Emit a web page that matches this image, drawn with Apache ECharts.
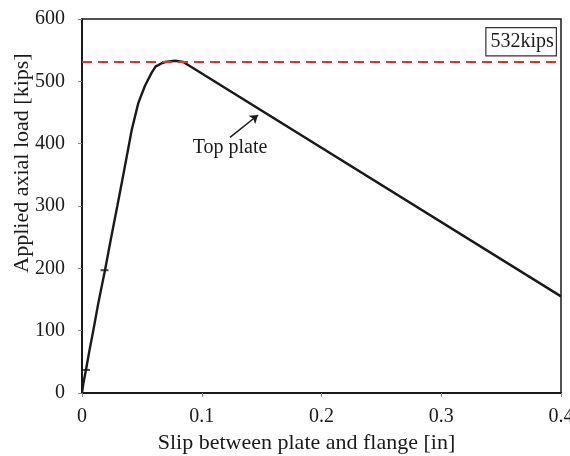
<!DOCTYPE html>
<html>
<head>
<meta charset="utf-8">
<script src="https://cdn.jsdelivr.net/npm/echarts@6/dist/echarts.min.js"></script>
<style>
  html, body { margin: 0; padding: 0; background: #fff; }
  #chart { width: 570px; height: 456px; }
</style>
</head>
<body>
<div id="chart"></div>
<script>
// slip [in] vs applied axial load [kips]
const slip = [0, 0.0012, 0.0033, 0.006, 0.0094, 0.0136, 0.0192, 0.024, 0.0295,
  0.0345, 0.0387, 0.0415, 0.047, 0.0526, 0.0582, 0.0615, 0.0637, 0.0665, 0.0693, 0.0777, 0.0846, 0.4];
const load = [0, 16, 37, 66, 100, 144, 197, 246, 300,
  350, 393, 422, 465, 493, 514, 524, 526, 529, 531, 533, 531, 155];

// the two small cross marks on the rising branch
const markSlip = [0.0033, 0.0188];
const markLoad = [37, 197];

const peakLoad = 532;
const peakText = '532kips';
const curveName = 'Top plate';
const arrowFrom = [0.1236, 410];
const arrowTo = [0.147, 446];

const xTicks = [0, 0.1, 0.2, 0.3, 0.4];
const yTicks = [0, 100, 200, 300, 400, 500, 600];

const font = '"Liberation Serif", "Times New Roman", serif';
const ink = '#1a1a1a';

const chart = echarts.init(document.getElementById('chart'));

chart.setOption({
  animation: false,
  textStyle: { fontFamily: font, color: ink },
  grid: {
    left: 82, top: 19, right: 9, bottom: 63,
    outerBoundsMode: 'none',
    containLabel: false,
    show: true, borderColor: ink, borderWidth: 1.5, backgroundColor: 'transparent'
  },
  xAxis: {
    type: 'value',
    min: xTicks[0], max: xTicks[xTicks.length - 1], interval: 0.1,
    name: 'Slip between plate and flange [in]',
    nameLocation: 'middle', nameGap: 39,
    nameMoveOverlap: false,
    nameTextStyle: { fontFamily: font, fontSize: 22, color: ink, padding: [0, 30, 0, 0] },
    axisLine: { show: true, lineStyle: { color: ink, width: 2 } },
    axisTick: { show: true, length: 4, lineStyle: { color: '#888' } },
    axisLabel: { fontFamily: font, fontSize: 20, color: ink, margin: 14 },
    splitLine: { show: false }
  },
  yAxis: {
    type: 'value',
    min: yTicks[0], max: yTicks[yTicks.length - 1], interval: 100,
    name: 'Applied axial load [kips]',
    nameLocation: 'middle', nameGap: 49,
    nameMoveOverlap: false,
    nameTextStyle: { fontFamily: font, fontSize: 22, color: ink, padding: [0, 0, 0, 86] },
    axisLine: { show: true, lineStyle: { color: ink, width: 2 } },
    axisTick: { show: true, length: 4, lineStyle: { color: '#888' } },
    axisLabel: { fontFamily: font, fontSize: 20, color: ink, margin: 17 },
    splitLine: { show: false }
  },
  series: [
    {
      name: curveName,
      type: 'line',
      data: slip.map((s, i) => [s, load[i]]),
      showSymbol: false,
      lineStyle: { color: ink, width: 2.4 },
      z: 3,
      markLine: {
        silent: true,
        symbol: 'none',
        label: { show: false },
        lineStyle: { color: '#e8302a', width: 2, type: [10, 6] },
        data: [{ yAxis: peakLoad }]
      }
    },
    {
      type: 'scatter',
      data: markSlip.map((s, i) => [s, markLoad[i]]),
      symbol: 'rect',
      symbolSize: [8, 2],
      itemStyle: { color: ink },
      z: 4
    },
    {
      type: 'line',
      data: [],
      markLine: {
        silent: true,
        symbol: ['none', 'arrow'],
        symbolSize: 8,
        label: { show: false },
        lineStyle: { color: ink, width: 1.5, type: 'solid' },
        data: [[{ coord: arrowFrom }, { coord: arrowTo }]]
      },
      markPoint: {
        silent: true,
        symbol: 'circle',
        symbolSize: 1,
        itemStyle: { color: 'transparent' },
        label: {
          show: true, position: 'inside',
          formatter: curveName,
          fontFamily: font, fontSize: 20, color: ink
        },
        data: [{ coord: [0.1236, 394] }]
      }
    }
  ],
  graphic: [
    {
      type: 'text',
      right: 13,
      top: 27,
      style: {
        text: peakText,
        font: '20px ' + font,
        fill: ink,
        padding: [4, 2, 3, 4],
        borderColor: '#333',
        borderWidth: 1.2,
        backgroundColor: '#fff'
      },
      z: 10
    }
  ]
});
</script>
</body>
</html>
